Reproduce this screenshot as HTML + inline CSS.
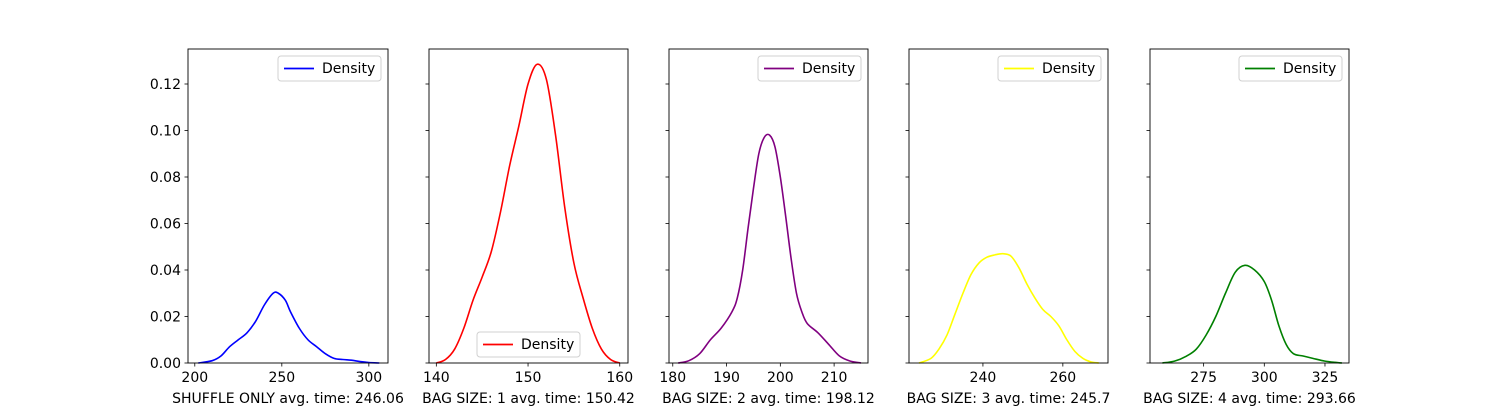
<!DOCTYPE html>
<html><head><meta charset="utf-8"><style>
body{margin:0;background:#fff;}
svg{display:block;font-family:"DejaVu Sans","Liberation Sans",sans-serif;}
</style></head><body>
<svg id="chart" width="1500" height="408"></svg>
<script>
const titles=["SHUFFLE ONLY avg. time: 246.06","BAG SIZE: 1 avg. time: 150.42","BAG SIZE: 2 avg. time: 198.12","BAG SIZE: 3 avg. time: 245.7","BAG SIZE: 4 avg. time: 293.66"];
const colors=["#0000ff","#ff0000","#800080","#ffff00","#008000"];
const yTicks=[0,0.02,0.04,0.06,0.08,0.10,0.12];
const xTicks0=[200,250,300],xTicks1=[140,150,160],xTicks2=[180,190,200,210],xTicks3=[240,260],xTicks4=[275,300,325];
const xs0=[202,210,215,220,225,230,235,240,245,248,252,255,260,265,270,275,280,285,290,295,300,306];
const ys0=[0,0.001,0.003,0.007,0.010,0.013,0.018,0.025,0.030,0.030,0.027,0.022,0.015,0.010,0.007,0.004,0.002,0.0015,0.0012,0.0006,0.0002,0];
const xs1=[140,141,142,143,144,145,146,147,148,149,150,151,152,153,154,155,156,157,158,159,160];
const ys1=[0,0.0015,0.006,0.015,0.027,0.037,0.048,0.065,0.085,0.102,0.12,0.1285,0.122,0.098,0.067,0.043,0.028,0.015,0.006,0.0015,0];
const xs2=[181,183,185,187,189,191,192,193,194,195,196,197,198,199,200,201,202,203,204,205,207,209,211,213,215];
const ys2=[0,0.001,0.004,0.010,0.015,0.022,0.028,0.040,0.058,0.075,0.090,0.097,0.098,0.093,0.080,0.063,0.045,0.030,0.022,0.017,0.013,0.008,0.003,0.0008,0];
const xs3=[224,227,229,231,233,235,237,239,241,243,245,247,249,251,253,255,257,259,261,263,265,267,269];
const ys3=[0,0.002,0.006,0.012,0.021,0.030,0.038,0.043,0.0455,0.0465,0.047,0.046,0.041,0.034,0.028,0.023,0.020,0.016,0.010,0.005,0.002,0.0005,0];
const xs4=[258,263,268,272,276,280,284,288,292,296,300,303,306,309,312,316,320,325,330,332];
const ys4=[0,0.0008,0.003,0.006,0.012,0.020,0.030,0.039,0.042,0.040,0.035,0.027,0.016,0.008,0.004,0.003,0.002,0.0008,0.0002,0];
const panels=[
 {l:188,r:388,x0:196.1,x1:311,xs:xs0,ys:ys0,ticks:xTicks0,leg:"top"},
 {l:429,r:628,x0:139.2,x1:160.9,xs:xs1,ys:ys1,ticks:xTicks1,leg:"bottom"},
 {l:669,r:868,x0:179.3,x1:216.3,xs:xs2,ys:ys2,ticks:xTicks2,leg:"top"},
 {l:909,r:1108,x0:221.5,x1:271.3,xs:xs3,ys:ys3,ticks:xTicks3,leg:"top"},
 {l:1150,r:1349,x0:252.9,x1:334.9,xs:xs4,ys:ys4,ticks:xTicks4,leg:"top"}];
const T=49,B=363,YMAX=(B-T)/23.25*0.01;
const svg=document.getElementById('chart');
const NS="http://www.w3.org/2000/svg";
function mk(t,a,p){const e=document.createElementNS(NS,t);for(const k in a)e.setAttribute(k,a[k]);(p||svg).appendChild(e);return e;}
function yS(v){return B-v/YMAX*(B-T);}
function smooth(pts){let d="M"+pts[0][0]+","+pts[0][1];for(let i=0;i<pts.length-1;i++){const p0=pts[i-1]||pts[i],p1=pts[i],p2=pts[i+1],p3=pts[i+2]||p2;const c1=[p1[0]+(p2[0]-p0[0])/6,p1[1]+(p2[1]-p0[1])/6],c2=[p2[0]-(p3[0]-p1[0])/6,p2[1]-(p3[1]-p1[1])/6];d+=` C${c1[0]},${c1[1]} ${c2[0]},${c2[1]} ${p2[0]},${p2[1]}`;}return d;}
panels.forEach((p,i)=>{
 const g=mk('g',{});
 
 
 const xS=v=>p.l+(v-p.x0)/(p.x1-p.x0)*(p.r-p.l);
 yTicks.forEach(t=>{const y=yS(t);
  const tk=mk('line',{x1:p.l-3.5,x2:p.l,y1:y,y2:y,stroke:'#000','stroke-width':0.8},g);
  
  
  if(i===0){const tx=mk('text',{x:p.l-7,y:y+5,'text-anchor':'end','font-size':14},g);tx.textContent=t.toFixed(2);
   
   }
 });
 p.ticks.forEach(t=>{const x=xS(t);
  const tk=mk('line',{x1:x,x2:x,y1:B,y2:B+3.5,stroke:'#000','stroke-width':0.8},g);
  
  
  const tx=mk('text',{x:x,y:B+19,'text-anchor':'middle','font-size':14},g);tx.textContent=t;
  
  
 });
 const pts=p.xs.map((x,k)=>[xS(x),yS(p.ys[k])]);
 const line=mk('path',{d:smooth(pts),fill:'none',stroke:colors[i],'stroke-width':1.6},g);
 
 
 const fr=mk('rect',{x:p.l,y:T,width:p.r-p.l,height:B-T,fill:'none',stroke:'#000','stroke-width':0.9},g);
 
 
 const xl=mk('text',{x:(p.l+p.r)/2,y:403,'text-anchor':'middle','font-size':14},g);xl.textContent=titles[i];
 
 
 const lw=103,lh=25;
 const lx=p.leg==="top"?p.r-7-lw:p.l+48,ly=p.leg==="top"?56:332;
 const lg=mk('g',{},g);
 
 
 mk('rect',{x:lx,y:ly,width:lw,height:lh,rx:3,fill:'#fff',stroke:'#d0d0d0','stroke-width':1},lg);
 mk('line',{x1:lx+6,x2:lx+36,y1:ly+12.5,y2:ly+12.5,stroke:colors[i],'stroke-width':1.8},lg);
 const lt=mk('text',{x:lx+44,y:ly+17,'font-size':14},lg);lt.textContent="Density";
 
 
});
</script>
</body></html>
